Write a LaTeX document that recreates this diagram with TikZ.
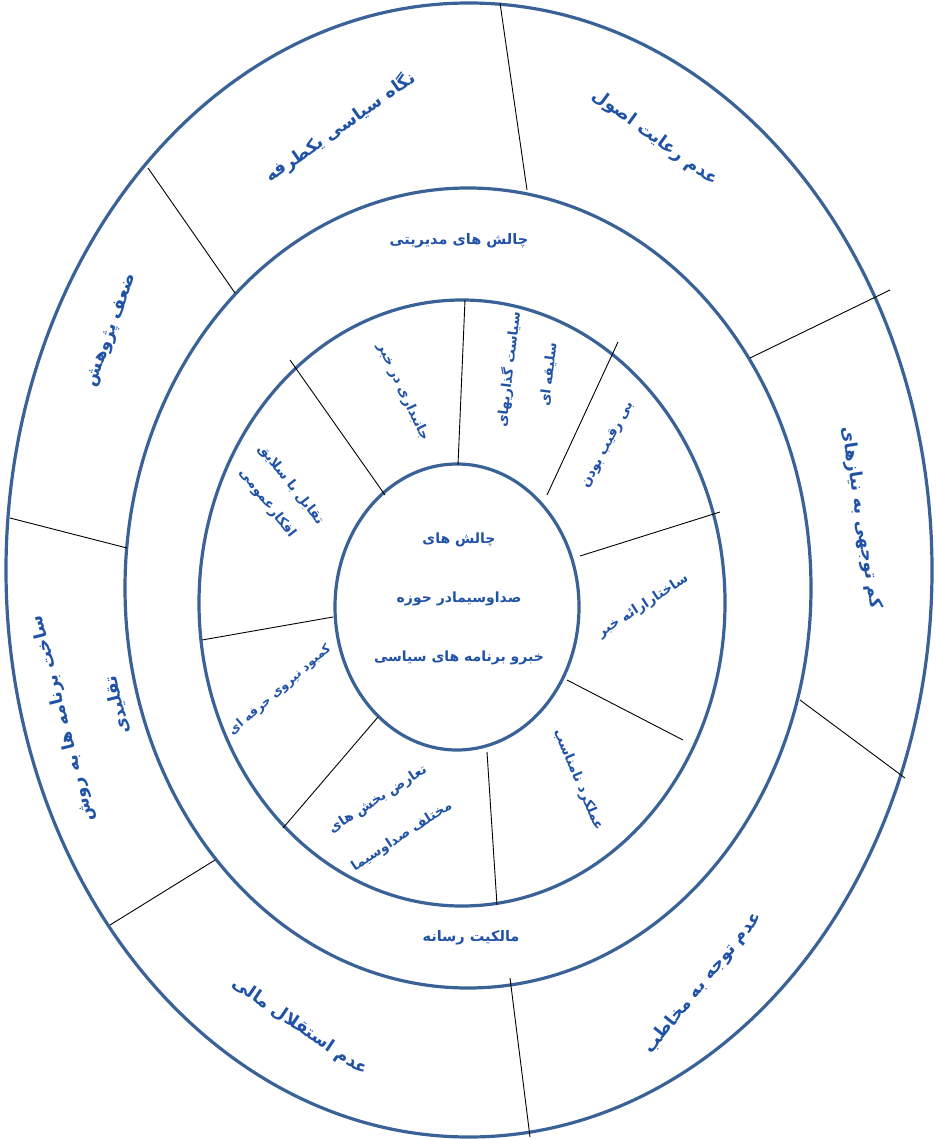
\documentclass[tikz,border=0pt]{standalone}
\usepackage{fontspec}
\newfontfamily\fa[Script=Arabic]{DejaVu Sans}
\TeXXeTstate=1
\definecolor{ring}{RGB}{58,98,150}
\definecolor{txt}{RGB}{32,82,165}
\tikzset{
  ringline/.style={draw=ring, line width=3.2pt},
  divider/.style={draw=black, line width=0.9pt},
  outerlbl/.style={text=txt, font=\fa\bfseries\fontsize{17.5}{57}\selectfont, inner sep=0pt, align=center},
  midlbl/.style={text=txt, font=\fa\bfseries\fontsize{14.5}{20}\selectfont, inner sep=0pt, align=center},
  innerlbl/.style={text=txt, font=\fa\bfseries\fontsize{13.5}{#1}\selectfont, inner sep=0pt, align=center},
  innerlbl/.default=40,
  smalllbl/.style={text=txt, font=\fa\bfseries\fontsize{12.3}{20}\selectfont, inner sep=0pt, align=center},
  centerlbl/.style={text=txt, font=\fa\bfseries\fontsize{14}{59}\selectfont, inner sep=0pt, align=center},
}
\begin{document}
\begin{tikzpicture}[x=1pt,y=-1pt]
\useasboundingbox (0,0) rectangle (935,1139);
% rings
\draw[ringline] (469,570) ellipse [x radius=463, y radius=567];
\draw[ringline] (468,588) ellipse [x radius=343, y radius=400];
\draw[ringline] (462,603) ellipse [x radius=263, y radius=303];
\draw[ringline, fill=white] (457,607) ellipse [x radius=122, y radius=143];
% outer dividers
\coordinate (d1a) at (500,3);   \coordinate (d1b) at (527,190);
\coordinate (d2a) at (890,290); \coordinate (d2b) at (750,358);
\coordinate (d3a) at (905,778); \coordinate (d3b) at (800,700);
\coordinate (d4a) at (530,1137);\coordinate (d4b) at (510,978);
\coordinate (d5a) at (110,925); \coordinate (d5b) at (215,860);
\coordinate (d6a) at (10,518);  \coordinate (d6b) at (127,548);
\coordinate (d7a) at (148,168); \coordinate (d7b) at (235,293);
\foreach \i in {1,...,7} {\draw[divider] (d\i a) -- (d\i b);}
% inner dividers
\coordinate (e1a) at (290,360); \coordinate (e1b) at (385,495);
\coordinate (e2a) at (465,300); \coordinate (e2b) at (458,465);
\coordinate (e3a) at (618,342); \coordinate (e3b) at (547,495);
\coordinate (e4a) at (720,512); \coordinate (e4b) at (580,556);
\coordinate (e5a) at (683,740); \coordinate (e5b) at (567,680);
\coordinate (e6a) at (497,905); \coordinate (e6b) at (487,752);
\coordinate (e7a) at (283,828); \coordinate (e7b) at (378,717);
\coordinate (e8a) at (202,640); \coordinate (e8b) at (333,617);
\foreach \i in {1,...,8} {\draw[divider] (e\i a) -- (e\i b);}
% outer labels
\node[outerlbl, rotate=35]  (o1) at (340,127) {\beginR نگاه سیاسی یکطرفه\endR};
\node[outerlbl, rotate=-36] (o2) at (655,138) {\beginR عدم رعایت اصول\endR};
\node[outerlbl, rotate=-81] (o3) at (861,518) {\beginR کم توجهی به نیازهای\endR};
\node[outerlbl, rotate=70]  (o4) at (112,330) {\beginR ضعف پژوهش\endR};
\node[outerlbl, rotate=104] (o5) at (90,712) {\beginR ساخت برنامه ها به روش\endR\\\beginR تقلیدی\endR};
\node[outerlbl, rotate=-34] (o6) at (300,1027) {\beginR عدم استقلال مالی\endR};
\node[outerlbl, rotate=51]  (o7) at (703,983) {\beginR عدم توجه به مخاطب\endR};
% middle labels
\node[midlbl] (m1) at (459,241) {\beginR چالش های مدیریتی\endR};
\node[midlbl] (m2) at (471,938) {\beginR مالکیت رسانه\endR};
% inner labels
\node[innerlbl, rotate=-65] (i1) at (403,392) {\beginR جانبداری در خبر\endR};
\node[innerlbl=40, rotate=83] (i2) at (528,372) {\beginR سیاست گذاریهای\endR\\\beginR سلیقه ای\endR};
\node[innerlbl, rotate=62] (i3) at (608,445) {\beginR بی رقیب بودن\endR};
\node[innerlbl, rotate=33] (i4) at (643,606) {\beginR ساختارارائه خبر\endR};
\node[innerlbl, rotate=-67] (i5) at (578,780) {\beginR عملکرد نامناسب\endR};
\node[innerlbl=44, rotate=33] (i6) at (390,818) {\beginR تعارض بخش های\endR\\\beginR مختلف صداوسیما\endR};
\node[smalllbl, rotate=41] (i7) at (280,690) {\beginR کمبود نیروی حرفه ای\endR};
\node[innerlbl=30, rotate=-52] (i8) at (279,494) {\beginR تقابل با سلایق\endR\\\beginR افکارعمومی\endR};
% center
\node[centerlbl] (c) at (459,599) {\beginR چالش های\endR\\\beginR صداوسیمادر حوزه\endR\\\beginR خبرو برنامه های سیاسی\endR};
\end{tikzpicture}
\end{document}
